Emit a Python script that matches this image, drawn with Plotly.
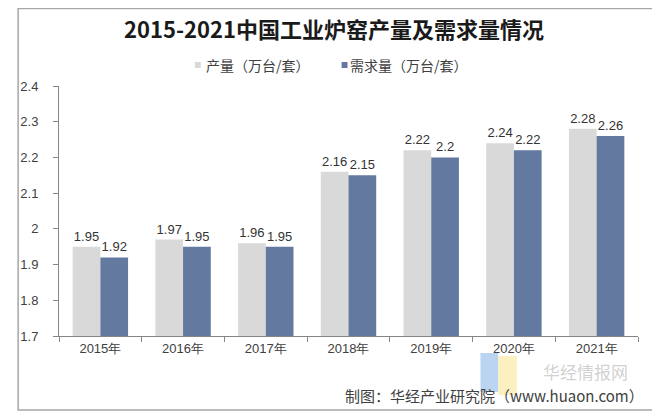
import plotly.graph_objects as go

years = ["2015年", "2016年", "2017年", "2018年", "2019年", "2020年", "2021年"]
output = [1.95, 1.97, 1.96, 2.16, 2.22, 2.24, 2.28]
demand = [1.92, 1.95, 1.95, 2.15, 2.20, 2.22, 2.26]
series_names = ["产量（万台/套）", "需求量（万台/套）"]
series_colors = ["#d9d9d9", "#64799f"]

# the page puts the figure 8px in from the top-left, so size it to fit the window
OFF = 8
W, H = 660 - OFF, 414 - OFF
L, R, T, B = 50 - OFF, 22, 86 - OFF, 78
pw, ph = W - L - R, H - T - B


def px(x):
    # window pixel -> paper x
    return (x - OFF - L) / pw


def py(y):
    # window pixel -> paper y
    return (H - B - (y - OFF)) / ph


FONT = "'Liberation Sans', Arial, sans-serif"
CJK = "'Noto Sans CJK SC', sans-serif"

fig = go.Figure()
for name, vals, color in zip(series_names, [output, demand], series_colors):
    fig.add_trace(go.Bar(
        x=years, y=vals, name=name,
        marker=dict(color=color, line=dict(width=0)),
        text=[f"{v:g}" for v in vals], textposition="outside",
        textfont=dict(size=13, color="#333333", family=FONT), cliponaxis=False,
        showlegend=False,
    ))

fig.update_layout(
    width=W, height=H,
    margin=dict(l=L, r=R, t=T, b=B),
    paper_bgcolor="white", plot_bgcolor="white",
    font=dict(family=FONT, color="#404040", size=13),
    barmode="group", bargap=0.33, bargroupgap=0,
    title=dict(
        text="<b>2015-2021中国工业炉窑产量及需求量情况</b>",
        x=0.5, xanchor="center", y=1 - (30 - OFF) / H, yanchor="middle",
        font=dict(size=22, color="#1a1a1a", family=CJK),
    ),
)
fig.update_yaxes(
    range=[1.7, 2.4], dtick=0.1, showgrid=False,
    showline=True, linecolor="#868686", linewidth=1,
    ticks="outside", ticklen=5, tickcolor="#868686", ticklabelstandoff=12,
    tickfont=dict(size=13, color="#404040"),
)
fig.update_xaxes(
    showline=True, linecolor="#868686", linewidth=1,
    ticks="outside", ticklen=5, tickcolor="#868686", tickson="boundaries",
    tickfont=dict(size=13, color="#404040"),
)

# legend drawn by hand (small square markers close to the text)
for (mx, tx), name, color in zip([(188, 197), (337, 343)], series_names, series_colors):
    fig.add_shape(type="rect", xref="paper", yref="paper",
                  x0=px(mx), x1=px(mx + 6), y0=py(68), y1=py(62),
                  fillcolor=color, line=dict(width=0))
    fig.add_annotation(xref="paper", yref="paper", x=px(tx), y=py(65),
                       xanchor="left", yanchor="middle", text=name, showarrow=False,
                       font=dict(size=14, color="#404040", family=CJK))

# outer border
fig.add_shape(type="rect", xref="paper", yref="paper",
              x0=px(OFF + 0.5), x1=px(657), y0=py(410), y1=py(OFF + 0.5),
              line=dict(color="#a6a6a6", width=1.5), layer="below")

# watermark
fig.add_shape(type="rect", xref="paper", yref="paper",
              x0=px(478), x1=px(496), y0=py(392), y1=py(353),
              fillcolor="rgba(120,170,230,0.5)", line=dict(width=0))
fig.add_shape(type="rect", xref="paper", yref="paper",
              x0=px(496), x1=px(515), y0=py(395), y1=py(356),
              fillcolor="rgba(250,225,140,0.55)", line=dict(width=0))
fig.add_annotation(xref="paper", yref="paper", x=px(585), y=py(371),
                   xanchor="center", yanchor="middle",
                   text="华经情报网", showarrow=False,
                   font=dict(size=17, color="rgba(150,150,150,0.45)", family=CJK))

# source note
fig.add_annotation(xref="paper", yref="paper", x=px(646), y=py(395),
                   xanchor="right", yanchor="middle",
                   text="制图：华经产业研究院（www.huaon.com）", showarrow=False,
                   font=dict(size=15, color="#404040", family=CJK))

fig.write_html("out.html")
